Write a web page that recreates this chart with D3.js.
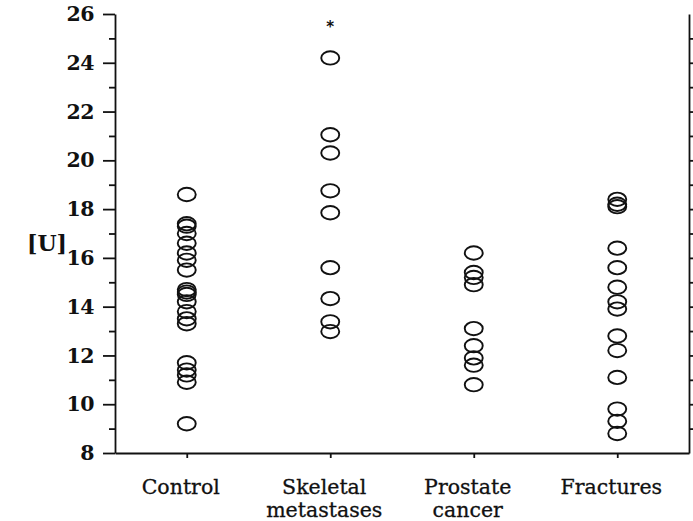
<!DOCTYPE html>
<html>
<head>
<meta charset="utf-8">
<script src="https://cdn.jsdelivr.net/npm/d3@7/dist/d3.min.js"></script>
<style>
  html, body { margin: 0; padding: 0; background: #fff; }
  svg { display: block; }
  .tick text { font-family: "DejaVu Serif", "Liberation Serif", serif; }
</style>
</head>
<body>
<svg id="chart" width="693" height="521"></svg>
<script>
// Groups along the x axis (label lines per group)
const groups = ["Control", "Skeletal metastases", "Prostate cancer", "Fractures"];
const groupLines = [["Control"], ["Skeletal", "metastases"], ["Prostate", "cancer"], ["Fractures"]];

// Individual measurements [U] per group
const control = [18.6, 17.4, 17.3, 17.0, 16.6, 16.2, 15.9, 15.5, 14.7, 14.6, 14.5, 14.2, 13.8, 13.5, 13.3, 11.7, 11.4, 11.2, 10.9, 9.2];
const skeletal = [24.2, 21.05, 20.3, 18.75, 17.85, 15.6, 14.33, 13.38, 12.98];
const prostate = [16.2, 15.4, 15.2, 14.9, 13.1, 12.4, 11.9, 11.6, 10.8];
const fractures = [18.4, 18.2, 18.1, 16.4, 15.6, 14.8, 14.2, 13.9, 12.8, 12.2, 11.1, 9.8, 9.3, 8.8];
const seriesValues = [control, skeletal, prostate, fractures];

// Significance marker above a group
const markers = [{ group: "Skeletal metastases", text: "*", value: 25.55 }];

// Axis ticks
const majorTicks = [8, 10, 12, 14, 16, 18, 20, 22, 24, 26];
const minorTicks = [9, 11, 13, 15, 17, 19, 21, 23, 25];
const yLabel = "[U]";

const svg = d3.select("#chart");
const plotLeft = 115, plotRight = 689, plotTop = 14, plotBottom = 453;

const x = d3.scalePoint().domain(groups).range([plotLeft, plotRight]).padding(0.5);
const y = d3.scaleLinear().domain([8, 26]).range([plotBottom, plotTop]);

const ink = "#111";
const serif = "\"DejaVu Serif\", \"Liberation Serif\", serif";

// Left axis: long labelled ticks on even values, short ticks on odd values
const yMajor = svg.append("g")
  .attr("transform", `translate(${plotLeft},0)`)
  .call(d3.axisLeft(y).tickValues(majorTicks).tickSize(12).tickPadding(9).tickSizeOuter(0).tickFormat(d3.format("d")));
yMajor.selectAll("text")
  .attr("font-size", 20.5).attr("font-weight", "bold").attr("fill", ink)
  .attr("letter-spacing", -0.5);

const yMinor = svg.append("g")
  .attr("transform", `translate(${plotLeft},0)`)
  .call(d3.axisLeft(y).tickValues(minorTicks).tickSize(6).tickSizeOuter(0).tickFormat(""));
yMinor.select(".domain").remove();

// Right axis: unlabelled ticks at every unit
svg.append("g")
  .attr("transform", `translate(${plotRight},0)`)
  .call(d3.axisRight(y).tickValues(d3.range(9, 26)).tickSize(6).tickSizeOuter(0).tickFormat(""));

// Bottom axis with group ticks
svg.append("g")
  .attr("transform", `translate(0,${plotBottom})`)
  .call(d3.axisBottom(x).tickSize(5).tickSizeOuter(0).tickFormat(""));

svg.selectAll(".domain, .tick line")
  .attr("stroke", ink).attr("stroke-width", 1.8);

// Group labels: one text element per line, set slightly left of each tick
const labels = svg.append("g")
  .attr("font-family", serif)
  .attr("font-size", 20.5).attr("fill", ink).attr("text-anchor", "middle")
  .attr("stroke", ink).attr("stroke-width", 0.3);
groups.forEach((g, i) => {
  groupLines[i].forEach((line, j) => {
    labels.append("text")
      .attr("x", x(g) - 6)
      .attr("y", 494 + j * 23)
      .text(line);
  });
});

// Y axis title
svg.append("text")
  .attr("x", 47).attr("y", 251)
  .attr("text-anchor", "middle")
  .attr("font-family", serif)
  .attr("font-size", 22).attr("font-weight", "bold").attr("fill", ink)
  .text(yLabel);

// Open elliptical markers for each measurement
const points = [];
groups.forEach((g, i) => seriesValues[i].forEach(v => points.push({ g, v })));
svg.append("g").selectAll("ellipse")
  .data(points)
  .join("ellipse")
  .attr("cx", d => x(d.g))
  .attr("cy", d => y(d.v))
  .attr("rx", 9).attr("ry", 6.7)
  .attr("fill", "none").attr("stroke", ink).attr("stroke-width", 1.9);

// Significance asterisk
svg.append("g").selectAll("text")
  .data(markers)
  .join("text")
  .attr("x", d => x(d.group))
  .attr("y", d => y(d.value) + 7)
  .attr("text-anchor", "middle")
  .attr("font-family", "\"DejaVu Sans\", sans-serif")
  .attr("font-size", 15).attr("font-weight", "bold").attr("fill", ink)
  .text(d => d.text);
</script>
</body>
</html>
